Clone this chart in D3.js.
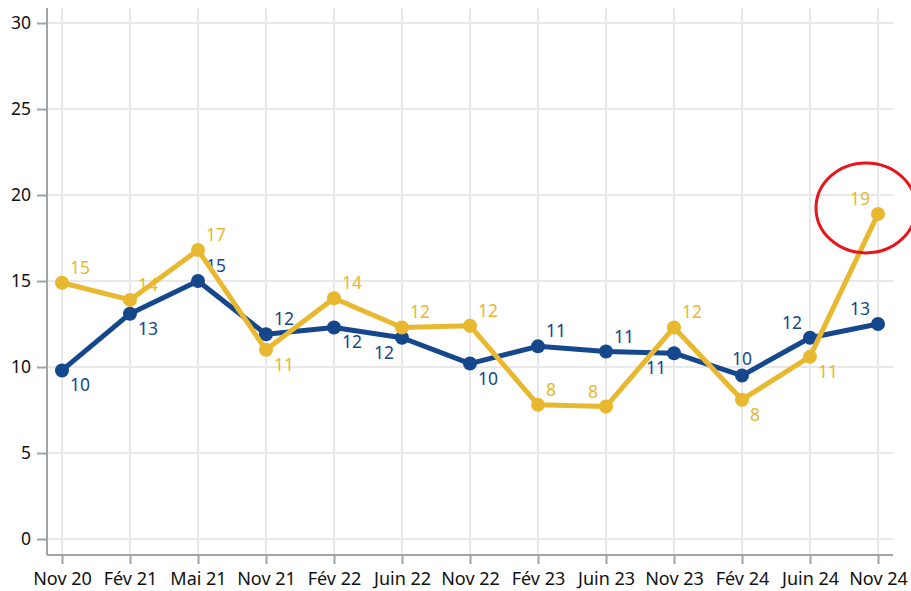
<!DOCTYPE html>
<html>
<head>
<meta charset="utf-8">
<script src="https://cdn.jsdelivr.net/npm/d3@7"></script>
<style>
  body { margin: 0; background: #fff; }
  svg { display: block; font-family: "Noto Sans", "Open Sans", sans-serif; }
</style>
</head>
<body>
<svg id="chart"></svg>
<script>
const periods = ["Nov 20", "Fév 21", "Mai 21", "Nov 21", "Fév 22", "Juin 22", "Nov 22",
                 "Fév 23", "Juin 23", "Nov 23", "Fév 24", "Juin 24", "Nov 24"];
const blueValues = [9.8, 13.1, 15.0, 11.9, 12.3, 11.7, 10.2, 11.2, 10.9, 10.8, 9.5, 11.7, 12.5];
const yellowValues = [14.9, 13.9, 16.8, 11.0, 14.0, 12.3, 12.4, 7.8, 7.7, 12.3, 8.1, 10.6, 18.9];
const blueLabelSide = ["lr", "lr", "ur", "ur", "lr", "ll", "lr", "ur", "ur", "ll", "uc", "ul", "ul"];
const yellowLabelSide = ["ur", "ur", "ur", "lr", "ur", "ur", "ur", "ur", "ul", "ur", "lr", "lr", "ul"];
const yTicks = [0, 5, 10, 15, 20, 25, 30];

document.addEventListener('DOMContentLoaded', () => {
  const width = 911;
  const height = 591;
  const blue = "#15478c";
  const yellow = "#e8b830";

  const svg = d3.select("#chart")
    .attr("width", width)
    .attr("height", height);

  const xScale = d3.scalePoint()
    .domain(periods)
    .range([62, 878]);

  const yScale = d3.scaleLinear()
    .domain([0, 30])
    .range([539, 23]);

  // grid
  svg.append("g")
    .selectAll("line")
    .data(yTicks)
    .enter()
    .append("line")
      .attr("x1", 47)
      .attr("x2", 893)
      .attr("y1", d => yScale(d))
      .attr("y2", d => yScale(d))
      .attr("stroke", "#e8e8e8")
      .attr("stroke-width", 2);

  svg.append("g")
    .selectAll("line")
    .data(periods)
    .enter()
    .append("line")
      .attr("x1", d => xScale(d))
      .attr("x2", d => xScale(d))
      .attr("y1", 8)
      .attr("y2", 555)
      .attr("stroke", "#e8e8e8")
      .attr("stroke-width", 2);

  // axes
  const yAxis = svg.append("g")
    .attr("transform", "translate(47,0)")
    .call(d3.axisLeft(yScale).tickValues(yTicks).tickSize(10).tickPadding(6));

  const xAxis = svg.append("g")
    .attr("transform", "translate(0,555)")
    .call(d3.axisBottom(xScale).tickSize(9).tickPadding(8));

  [xAxis, yAxis].forEach(ax => {
    ax.select(".domain").attr("stroke", "#a0a4a8").attr("stroke-width", 2);
    ax.selectAll(".tick line").attr("stroke", "#a0a4a8").attr("stroke-width", 2);
    ax.selectAll("text").attr("fill", "#111")
      .style("font-family", '"Noto Sans", sans-serif');
  });
  yAxis.selectAll("text").style("font-size", "17.5px");
  xAxis.selectAll("text").style("font-size", "18px");
  yAxis.select(".domain").attr("d", "M0,8V555");
  xAxis.select(".domain").attr("d", "M47,0H893");

  const line = d3.line()
    .x((d, i) => xScale(periods[i]))
    .y(d => yScale(d));

  const offsets = {
    ur: { dx: 8, dy: -9, anchor: "start" },
    lr: { dx: 8, dy: 21, anchor: "start" },
    ul: { dx: -8, dy: -9, anchor: "end" },
    ll: { dx: -8, dy: 21, anchor: "end" },
    uc: { dx: 0, dy: -11, anchor: "middle" }
  };

  function drawSeries(values, sides, color) {
    const g = svg.append("g");
    g.append("path")
      .datum(values)
      .attr("d", line)
      .attr("fill", "none")
      .attr("stroke", color)
      .attr("stroke-width", 5)
      .attr("stroke-linejoin", "round");

    g.selectAll("circle")
      .data(values)
      .enter()
      .append("circle")
        .attr("cx", (d, i) => xScale(periods[i]))
        .attr("cy", d => yScale(d))
        .attr("r", 7)
        .attr("fill", color);

    g.selectAll("text")
      .data(values)
      .enter()
      .append("text")
        .attr("x", (d, i) => xScale(periods[i]) + offsets[sides[i]].dx)
        .attr("y", (d, i) => yScale(d) + offsets[sides[i]].dy)
        .attr("text-anchor", (d, i) => offsets[sides[i]].anchor)
        .attr("fill", color)
        .style("font-size", "17.5px")
        .text(d => Math.round(d));
  }

  drawSeries(blueValues, blueLabelSide, blue);
  drawSeries(yellowValues, yellowLabelSide, yellow);

  // highlight last yellow value
  const last = yellowValues.length - 1;
  svg.append("ellipse")
    .attr("cx", xScale(periods[last]) - 12)
    .attr("cy", yScale(yellowValues[last]) - 6)
    .attr("rx", 50)
    .attr("ry", 45)
    .attr("fill", "none")
    .attr("stroke", "#e8141c")
    .attr("stroke-width", 3);
});
</script>
</body>
</html>
